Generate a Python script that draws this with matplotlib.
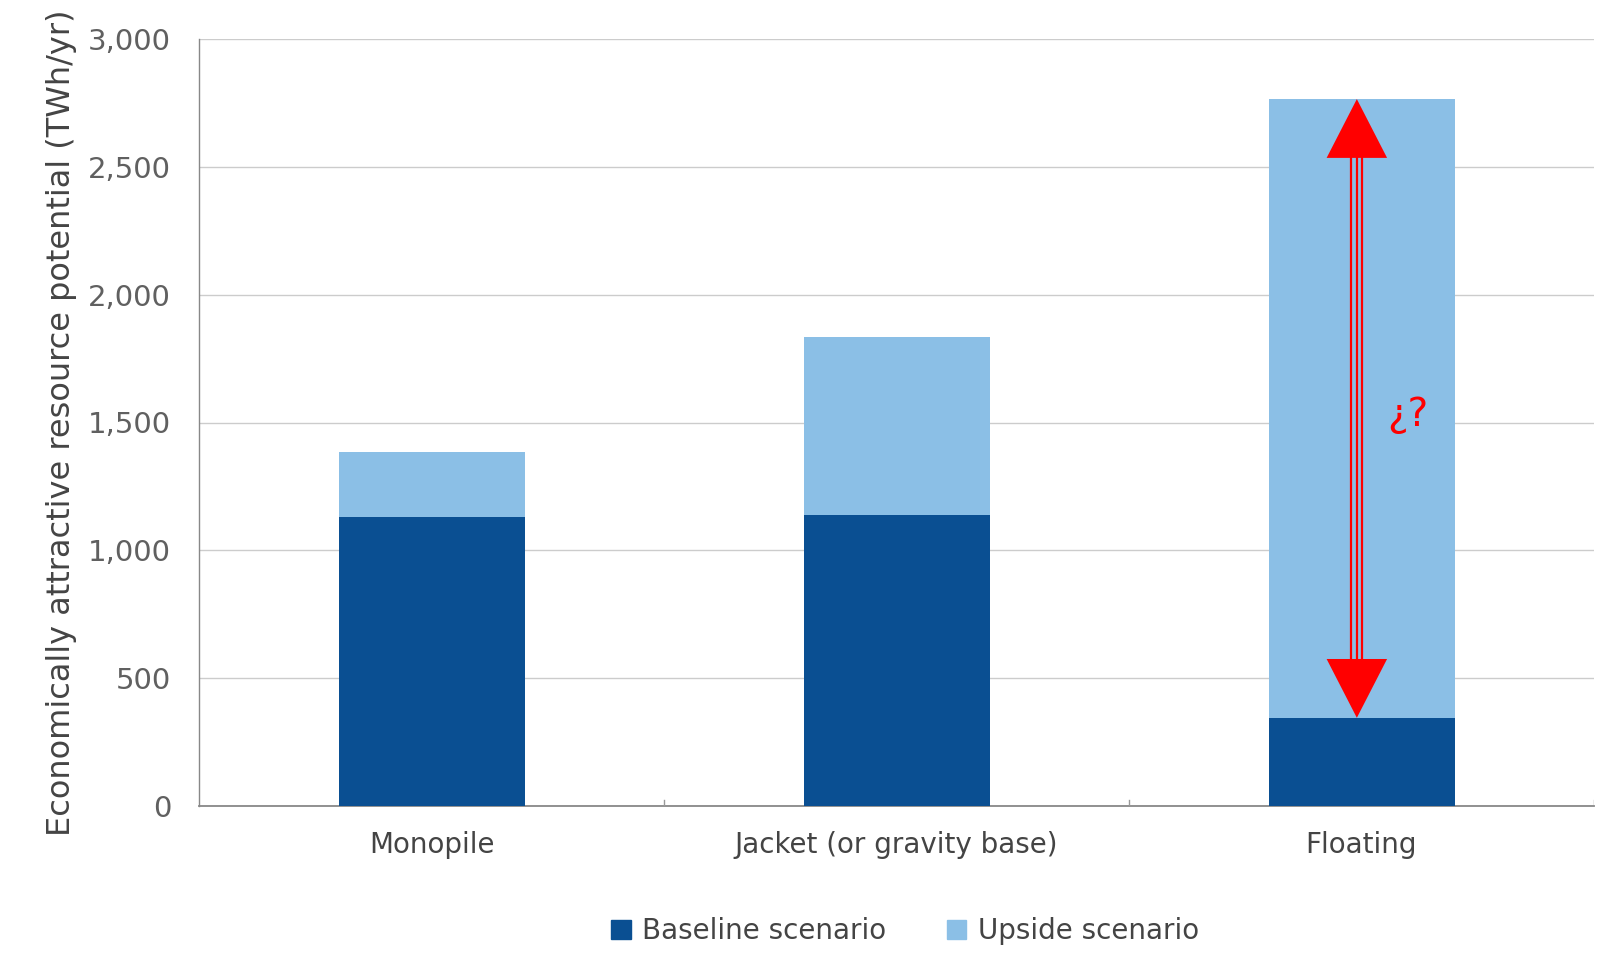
import matplotlib
matplotlib.use("Agg")
import matplotlib.pyplot as plt
from matplotlib.patches import Patch
import numpy as np

categories = ["Monopile", "Jacket (or gravity base)", "Floating"]
baseline = [1130, 1140, 345]
upside_total = [1385, 1835, 2765]
yticks = [0, 500, 1000, 1500, 2000, 2500, 3000]

BASE_COLOR = "#0a4f92"
UP_COLOR = "#8bbfe6"
TEXT_COLOR = "#606060"

plt.rcParams["font.family"] = ["DejaVu Sans"]

fig = plt.figure(figsize=(16.13, 9.58), dpi=100)
ax = fig.add_axes([199 / 1613, 1 - 806 / 958, (1594 - 199) / 1613, (806 - 39) / 958])

x = np.arange(len(categories))
extra = np.array(upside_total) - np.array(baseline)
ax.bar(x, baseline, width=0.4, color=BASE_COLOR, zorder=3)
ax.bar(x, extra, bottom=baseline, width=0.4, color=UP_COLOR, zorder=3)

ax.set_xlim(-0.5, 2.5)
ax.set_ylim(0, 3000)
ax.set_yticks(yticks)
ax.set_yticklabels([f"{v:,}" for v in yticks], fontsize=21, color=TEXT_COLOR)
ax.set_xticks(x)
ax.set_xticklabels(categories, fontsize=20, color="#444444")
ax.tick_params(axis="x", length=0, pad=18)
ax.tick_params(axis="y", length=0, pad=20)
ax.grid(axis="y", color="#cccccc", linewidth=1, zorder=0)
for side in ["top", "right"]:
    ax.spines[side].set_visible(False)
ax.spines["left"].set_color("#888888")
ax.spines["bottom"].set_color("#888888")
ax.spines["left"].set_linewidth(1)
ax.spines["bottom"].set_linewidth(1.3)
for b in [0.5, 1.5, 2.5]:
    ax.plot([b, b], [0, 25], color="#999999", linewidth=1, zorder=4)

ax.set_ylabel("Economically attractive resource potential (TWh/yr)", fontsize=23,
              color="#444444", labelpad=8)

# red double-headed arrow over floating upside
xa = 1.99
y0, y1 = baseline[2], upside_total[2]
head = 230
for dx in (-0.012, 0, 0.012):
    ax.plot([xa + dx, xa + dx], [y0 + head, y1 - head], color="red", linewidth=1.6, zorder=5)
for tip, base in ((y1, y1 - head), (y0, y0 + head)):
    ax.fill([xa - 0.065, xa + 0.065, xa], [base, base, tip], color="red", zorder=6, linewidth=0)
ax.text(xa + 0.11, 1530, "¿?", color="red", fontsize=28, ha="center", va="center", zorder=6)

handles = [Patch(color=BASE_COLOR, label="Baseline scenario"),
           Patch(color=UP_COLOR, label="Upside scenario")]
fig.legend(handles=handles, loc="center", bbox_to_anchor=(0.561, 1 - 931 / 958), ncol=2,
           frameon=False, fontsize=20, handlelength=0.7, handleheight=0.7,
           columnspacing=2.2, handletextpad=0.4, labelcolor="#444444")

fig.savefig("out.png", dpi=100)
